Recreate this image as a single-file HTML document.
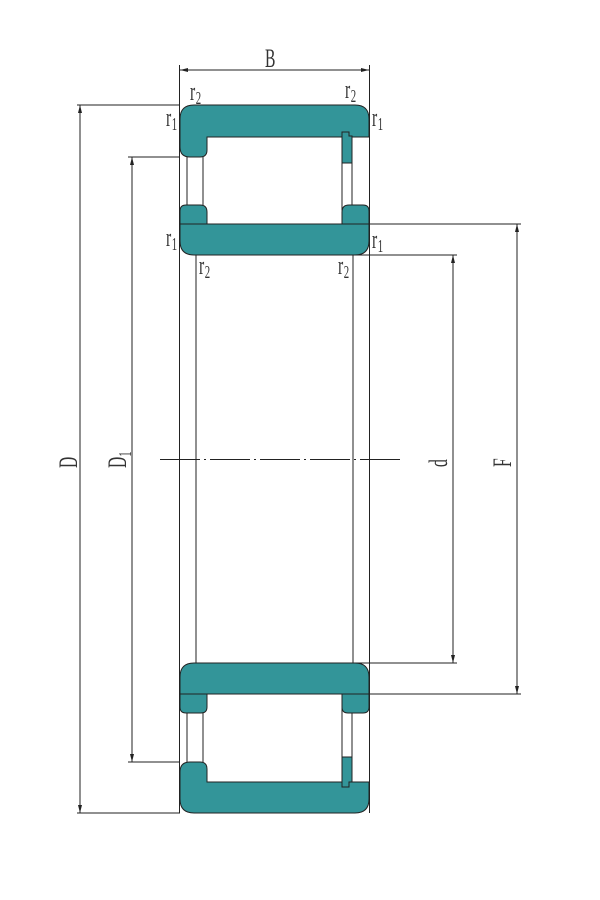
<!DOCTYPE html>
<html><head><style>html,body{margin:0;padding:0;background:#fff}svg{display:block}
text{font-family:"Liberation Serif",serif;fill:#333}</style></head><body>
<svg width="600" height="900" viewBox="0 0 600 900" xmlns="http://www.w3.org/2000/svg">
<g stroke="#222" stroke-width="1" fill="none">
<line x1="77" y1="105" x2="180" y2="105"/>
<line x1="77" y1="813" x2="180" y2="813"/>
<line x1="128" y1="157" x2="180" y2="157"/>
<line x1="128" y1="762" x2="180" y2="762"/>
<line x1="369" y1="224" x2="521" y2="224"/>
<line x1="369" y1="694" x2="521" y2="694"/>
<line x1="355" y1="255" x2="457" y2="255"/>
<line x1="355" y1="663" x2="457" y2="663"/>
<line x1="80" y1="105" x2="80" y2="813"/>
<line x1="132" y1="157" x2="132" y2="762"/>
<line x1="453" y1="255" x2="453" y2="663"/>
<line x1="517" y1="224" x2="517" y2="694"/>
<line x1="180" y1="70" x2="369" y2="70"/>
<line x1="179.5" y1="65" x2="179.5" y2="813"/>
<line x1="369.5" y1="65" x2="369.5" y2="813"/>
<line x1="196" y1="255" x2="196" y2="663"/>
<line x1="353" y1="255" x2="353" y2="663"/>
<line x1="160" y1="459.5" x2="402" y2="459.5" stroke-dasharray="40,4,2,4"/>
</g>
<g fill="#222">
<path d="M80 105 l-2 8 h4z"/><path d="M80 813 l-2 -8 h4z"/>
<path d="M132 157 l-2 8 h4z"/><path d="M132 762 l-2 -8 h4z"/>
<path d="M453 255 l-2 8 h4z"/><path d="M453 663 l-2 -8 h4z"/>
<path d="M517 224 l-2 8 h4z"/><path d="M517 694 l-2 -8 h4z"/>
<path d="M180 70 l8 -2 v4z"/><path d="M369 70 l-8 -2 v4z"/>
</g>
<g stroke="#222" stroke-width="1" fill="#fff">
<rect x="187" y="150" width="16" height="60"/>
<rect x="342" y="150" width="10" height="60"/>
<rect x="187" y="708" width="16" height="60"/>
<rect x="342" y="708" width="10" height="60"/>
</g>
<g stroke="#222" stroke-width="1" fill="#339599">
<path d="M194 105 H355 Q369 105 369 119 V137 H207 V150 Q207 157 200 157 H190 Q180 157 180 147 V119 Q180 105 194 105Z"/>
<path d="M342 132 H349 V136 H352 V163 H342Z"/>
<path d="M186 205 H200 Q207 205 207 212 V224 H180 V211 Q180 205 186 205Z"/>
<path d="M342 224 V212 Q342 205 349 205 H363 Q369 205 369 211 V224Z"/>
<path d="M180 224 H369 V241 Q369 255 355 255 H194 Q180 255 180 241Z"/>
<path d="M194 663 H355 Q369 663 369 677 V694 H180 V677 Q180 663 194 663Z"/>
<path d="M180 694 H207 V707 Q207 713 201 713 H186 Q180 713 180 707Z"/>
<path d="M342 694 H369 V707 Q369 713 363 713 H348 Q342 713 342 707Z"/>
<path d="M190 762 H200 Q207 762 207 769 V782 H369 V799 Q369 813 355 813 H194 Q180 813 180 799 V772 Q180 762 190 762Z"/>
<path d="M342 757 H352 V782 H349 V787 H342Z"/>
</g>
<g font-size="26">
<g transform="translate(265,67) scale(0.6,1)"><text>B</text></g>
<g transform="translate(190,100) scale(0.6,1)"><text>r<tspan font-size="18" dx="1" dy="4">2</tspan></text></g>
<g transform="translate(345,98) scale(0.6,1)"><text>r<tspan font-size="18" dx="1" dy="4">2</tspan></text></g>
<g transform="translate(166,126) scale(0.6,1)"><text>r<tspan font-size="18" dx="1" dy="4">1</tspan></text></g>
<g transform="translate(372,126) scale(0.6,1)"><text>r<tspan font-size="18" dx="1" dy="4">1</tspan></text></g>
<g transform="translate(166,246) scale(0.6,1)"><text>r<tspan font-size="18" dx="1" dy="4">1</tspan></text></g>
<g transform="translate(372,248) scale(0.6,1)"><text>r<tspan font-size="18" dx="1" dy="4">1</tspan></text></g>
<g transform="translate(199,274) scale(0.6,1)"><text>r<tspan font-size="18" dx="1" dy="4">2</tspan></text></g>
<g transform="translate(338,274) scale(0.6,1)"><text>r<tspan font-size="18" dx="1" dy="4">2</tspan></text></g>
<g transform="translate(77,468) rotate(-90) scale(0.6,1)"><text>D</text></g>
<g transform="translate(126,468) rotate(-90) scale(0.6,1)"><text>D<tspan font-size="18" dy="5">1</tspan></text></g>
<g transform="translate(447,467) rotate(-90) scale(0.6,1)"><text>d</text></g>
<g transform="translate(511,467) rotate(-90) scale(0.6,1)"><text>F</text></g>
</g>
</svg>
</body></html>
